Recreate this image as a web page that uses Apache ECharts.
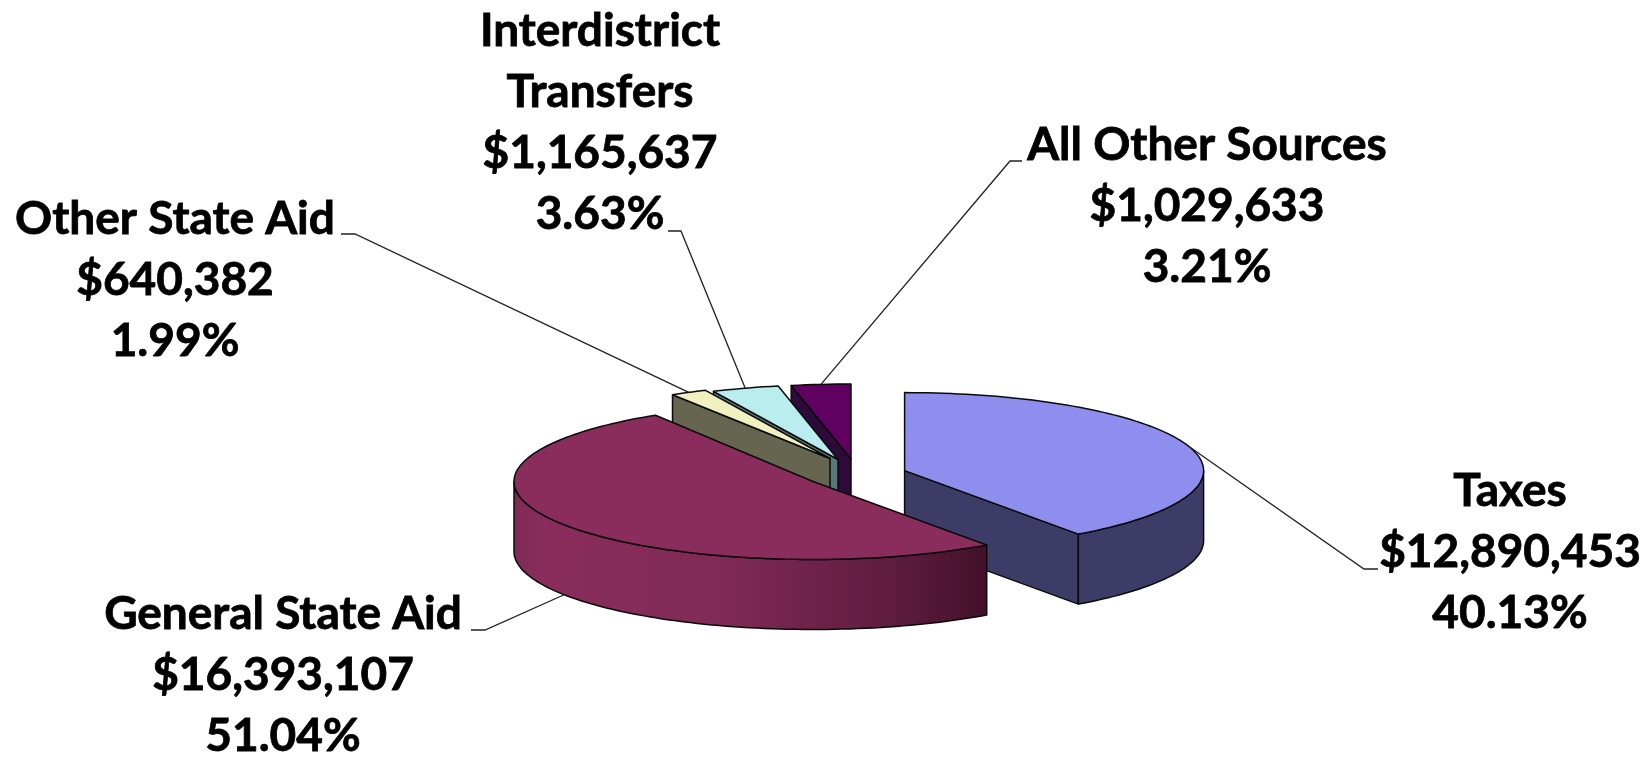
<!DOCTYPE html>
<html>
<head>
<meta charset="utf-8">
<title>Revenue sources</title>
<script src="https://cdn.jsdelivr.net/npm/echarts@6/dist/echarts.min.js"></script>
<style>
  html, body { margin: 0; padding: 0; background: #fff; }
  #chart { width: 1649px; height: 757px; }
</style>
</head>
<body>
<div id="chart"></div>
<script>
// values, clockwise from 12 o'clock
const names = ['Taxes', 'General State Aid', 'Other State Aid', 'Interdistrict\nTransfers', 'All Other Sources']
const amounts = [12890453, 16393107, 640382, 1165637, 1029633]

// look of each slice, same order as above
const topColors = ['#8E8EEE', '#8A2D5C', '#F0F0C0', '#BAEEEE', '#600060']
const sideColors = ['#3C3C66', null, '#666650', '#5A7878', '#2E0A3A']
const layerOrder = [1, 5, 4, 3, 2]

// exploded slice apex (px)
const apexX = [904.6, 813, 830, 838, 851]
const apexY = [470.6, 481.5, 458.5, 459.5, 459]
const radiusY = [78, 78, 75, 75, 75]
const radiusX = 299
const depth = 70

// label block centre x, first line y, leader line knee and text end
const labelX = [1510, 283, 175, 600, 1207]
const labelY = [491, 614, 219, 31, 145]
const kneeX = [1364, 485, 355, 681, 1010]
const kneeY = [569, 630, 234, 231, 161]
const tailX = [1378, 471, 341, 668, 1022]
const lineStep = 61

const total = amounts.reduce((a, b) => a + b, 0)
const startAngles = []
amounts.reduce((sum, v, i) => {
  startAngles[i] = (sum / total) * 360
  return sum + v
}, 0)

const rim = (i, deg) => {
  const r = (deg * Math.PI) / 180
  return [apexX[i] + radiusX * Math.sin(r), apexY[i] - radiusY[i] * Math.cos(r)]
}
const arc = (i, from, to) => {
  const pts = []
  const n = Math.max(2, Math.ceil((to - from) / 1.5))
  for (let k = 0; k <= n; k++) pts.push(rim(i, from + ((to - from) * k) / n))
  return pts
}
const down = (p) => [p[0], p[1] + depth]

const edge = { stroke: '#0a0a0a', lineWidth: 1.5, lineJoin: 'round' }
const maroonSide = new echarts.graphic.LinearGradient(0, 0, 1, 0, [
  { offset: 0, color: '#7E2A55' },
  { offset: 0.06, color: '#8A2D5C' },
  { offset: 0.45, color: '#7F2A55' },
  { offset: 0.8, color: '#5E1C3E' },
  { offset: 1, color: '#431029' }
])

const renderSlice = (params, api) => {
  const i = params.dataIndex
  const value = api.value(0)
  const from = startAngles[i]
  const to = from + (value / total) * 360
  const z = layerOrder[i] * 10
  const fill = sideColors[i] || maroonSide
  const apex = [apexX[i], apexY[i]]
  const children = []

  // radial wall, only the one facing the viewer
  const wallAngle = to < 180 ? to : from > 180 ? from : null
  if (wallAngle !== null) {
    const p = rim(i, wallAngle)
    children.push({
      type: 'polygon',
      z2: z,
      shape: { points: [apex, p, down(p), down(apex)] },
      style: { fill, ...edge }
    })
  }

  // outer wall
  const a = Math.max(from, 90)
  const b = Math.min(to, 270)
  if (b > a) {
    const front = arc(i, a, b)
    children.push({
      type: 'polygon',
      z2: z + 1,
      shape: { points: front.concat(front.map(down).reverse()) },
      style: { fill, ...edge }
    })
  }

  // top
  children.push({
    type: 'polygon',
    z2: z + 2,
    shape: { points: [apex].concat(arc(i, from, to)) },
    style: { fill: topColors[i], ...edge }
  })

  // leader line, leaves from the rim at the middle of the slice
  const mid = (from + to) / 2
  let tip = rim(i, mid)
  if (mid > 90 && mid < 270) tip = down(tip)
  children.push({
    type: 'polyline',
    z2: z + 3,
    shape: { points: [[tailX[i], kneeY[i]], [kneeX[i], kneeY[i]], tip] },
    style: { fill: null, stroke: '#222', lineWidth: 1.3 }
  })

  // label
  const lines = names[i].split('\n')
  lines.push('$' + value.toLocaleString('en-US'))
  lines.push(((value / total) * 100).toFixed(2) + '%')
  lines.forEach((text, k) => {
    children.push({
      type: 'text',
      z2: 100,
      style: {
        text,
        x: labelX[i],
        y: labelY[i] + k * lineStep,
        fill: '#000',
        stroke: '#000',
        lineWidth: 0.8,
        font: 'bold 46px Lato, sans-serif',
        textAlign: 'center',
        textVerticalAlign: 'middle'
      }
    })
  })
  return { type: 'group', children }
}

const c = echarts.init(document.getElementById('chart'))
c.setOption({
  backgroundColor: '#fff',
  animation: false,
  series: [
    {
      type: 'custom',
      coordinateSystem: 'none',
      renderItem: renderSlice,
      data: amounts.map((v) => [v])
    }
  ]
})
</script>
</body>
</html>
